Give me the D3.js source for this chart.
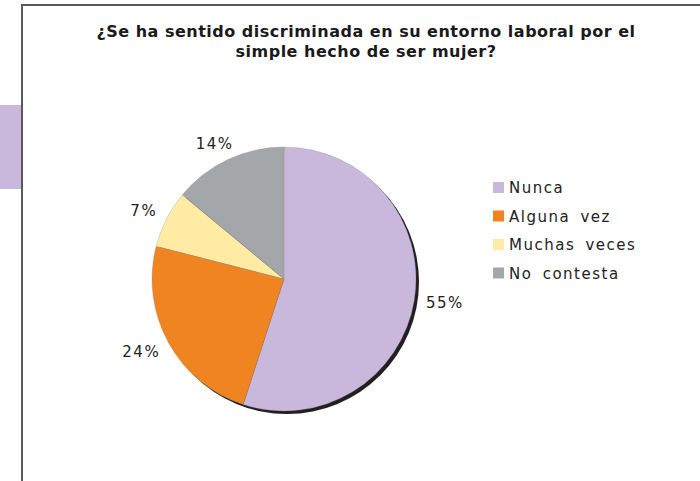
<!DOCTYPE html>
<html>
<head>
<meta charset="utf-8">
<script src="https://cdn.jsdelivr.net/npm/d3@7"></script>
<style>
    body { margin: 0; background: #fff; }
    svg { display: block; font-family: "DejaVu Sans", Verdana, sans-serif; }
</style>
</head>
<body>
<div id="chart"></div>
<script>

const categories = ["Nunca", "Alguna vez", "Muchas veces", "No contesta"];
const values = [55, 24, 7, 14];
const colors = ["#c9b8db", "#f08421", "#ffeba3", "#a4a7aa"];
const titleLines = [
    "¿Se ha sentido discriminada en su entorno laboral por el",
    "simple hecho de ser mujer?"
];

const width = 700;
const height = 481;

const svg = d3.select("#chart")
    .append("svg")
    .attr("width", width)
    .attr("height", height);

// side tab + frame
svg.append("rect")
    .attr("x", 0)
    .attr("y", 105)
    .attr("width", 21)
    .attr("height", 84)
    .attr("fill", "#c9b8db");

svg.append("path")
    .attr("d", "M22," + height + "V5H" + width)
    .attr("fill", "none")
    .attr("stroke", "#5a5a5a")
    .attr("stroke-width", 2);

// title
svg.append("text")
    .attr("x", 366)
    .attr("y", 37)
    .attr("text-anchor", "middle")
    .attr("font-weight", "bold")
    .attr("font-size", 16)
    .attr("letter-spacing", 0.5)
    .attr("fill", "#1a1a1a")
    .selectAll("tspan")
    .data(titleLines)
    .enter()
    .append("tspan")
    .attr("x", 366)
    .attr("dy", function(d, i) { return i === 0 ? 0 : 20; })
    .text(function(d) { return d; });

// pie
const cx = 284;
const cy = 279;
const radius = 132;

const g = svg.append("g")
    .attr("transform", "translate(" + cx + "," + cy + ")");

const pie = d3.pie()
    .sort(null)
    .value(function(d) { return d; });

const arc = d3.arc()
    .innerRadius(0)
    .outerRadius(radius);

const arcs = pie(values);

// shadow
g.append("circle")
    .attr("cx", 3)
    .attr("cy", 3)
    .attr("r", radius)
    .attr("fill", "#231f20");

g.selectAll("path.slice")
    .data(arcs)
    .enter()
    .append("path")
    .attr("class", "slice")
    .attr("d", arc)
    .attr("fill", function(d, i) { return colors[i]; })
    .attr("stroke", "#8a8a8a")
    .attr("stroke-width", 0.3);

// percentage labels, box pushed outwards from the slice edge
const labelR = 140;

g.selectAll("text.pct")
    .data(arcs)
    .enter()
    .append("text")
    .attr("class", "pct")
    .attr("font-size", 15)
    .attr("letter-spacing", 1.5)
    .attr("fill", "#222")
    .attr("text-anchor", "middle")
    .text(function(d) { return d.data + "%"; })
    .each(function(d) {
        const a = (d.startAngle + d.endAngle) / 2;
        const w = this.getComputedTextLength() + 8;
        const h = 20;
        const x = Math.sin(a) * labelR + Math.sin(a) * w / 2;
        const y = -Math.cos(a) * labelR - Math.cos(a) * h / 2;
        d3.select(this)
            .attr("x", x)
            .attr("y", y + 5.5);
    });

// legend
const legend = svg.append("g")
    .attr("transform", "translate(493,182)");

const row = legend.selectAll("g")
    .data(categories)
    .enter()
    .append("g")
    .attr("transform", function(d, i) { return "translate(0," + (i * 28.5) + ")"; });

row.append("rect")
    .attr("width", 11)
    .attr("height", 11)
    .attr("fill", function(d, i) { return colors[i]; });

row.append("text")
    .attr("x", 16)
    .attr("y", 11)
    .attr("font-size", 15)
    .attr("letter-spacing", 1.5)
    .attr("word-spacing", 4)
    .attr("fill", "#222")
    .text(function(d) { return d; });

</script>
</body>
</html>
